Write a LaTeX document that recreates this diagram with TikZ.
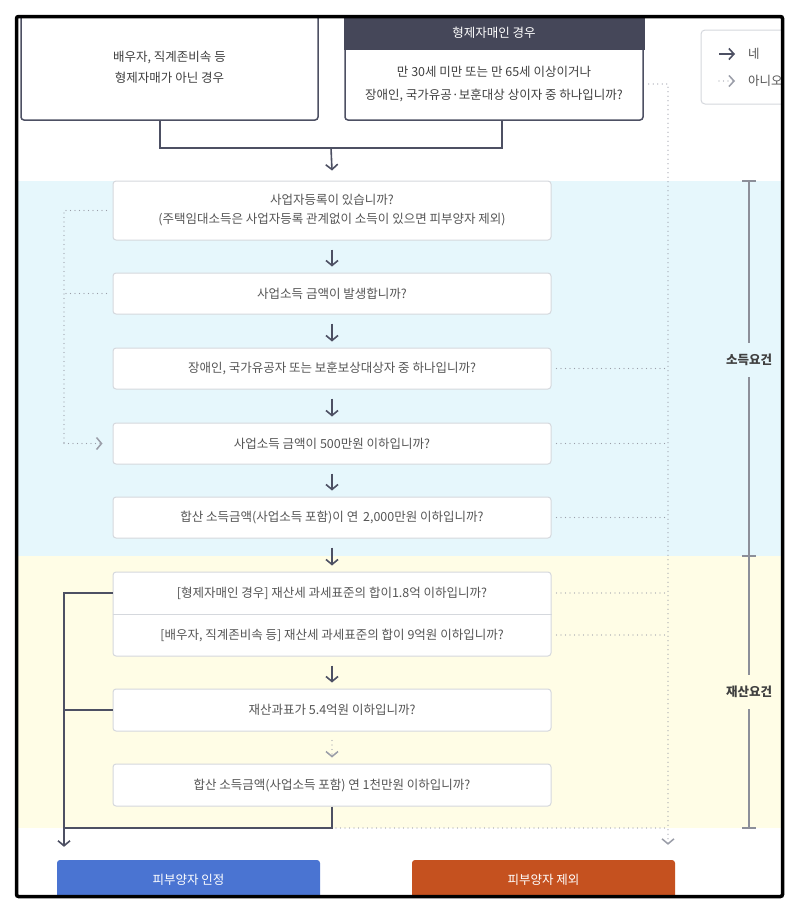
\documentclass[tikz,border=0pt]{standalone}
\usepackage{fontspec}
\setmainfont{Noto Sans CJK KR}
\usetikzlibrary{arrows.meta,calc}
\definecolor{hdr}{HTML}{454759}
\definecolor{ln}{HTML}{4D5063}
\definecolor{dotc}{HTML}{9A9DA8}
\definecolor{bandc}{HTML}{E6F7FC}
\definecolor{bandy}{HTML}{FFFDE6}
\definecolor{bord}{HTML}{D5D8DD}
\definecolor{txt}{HTML}{555555}
\definecolor{txtd}{HTML}{404040}
\definecolor{yesc}{HTML}{4A74D2}
\definecolor{noc}{HTML}{C5511F}
\definecolor{brk}{HTML}{8C8F99}
\begin{document}
\begin{tikzpicture}[x=1pt,y=-1pt,
  font=\fontsize{12.5}{15}\selectfont,
  qbox/.style={draw=bord, line width=1pt, fill=white, rounded corners=3pt,
    minimum width=438pt, minimum height=41pt, text=txt, align=center, inner sep=0pt},
  topbox/.style={draw=ln, line width=1.5pt, fill=white, rounded corners=3pt,
    minimum width=297pt, minimum height=105pt, inner sep=0pt, align=center, text=txtd},
  tx/.style={text=txt, align=center, inner sep=0pt},
  solidln/.style={draw=ln, line width=1.6pt},
  solidarr/.style={solidln, -{Straight Barb[length=5pt,width=12pt]}},
  dotln/.style={draw=dotc, line width=1.3pt, line cap=round, dash pattern=on 0pt off 4.5pt},
  dotarr/.style={dotln, -{Straight Barb[length=5pt,width=12pt,line width=1.5pt]}},
  btn/.style={rounded corners=3pt, minimum width=263pt, minimum height=40pt,
    text=white, inner sep=0pt},
  brkln/.style={draw=brk, line width=1.2pt},
  brklab/.style={text=txtd, font=\fontsize{12.5}{15}\selectfont\bfseries, inner xsep=0pt, inner ysep=11pt}
]
\useasboundingbox (0,0) rectangle (800,914);
\fill[white] (0,0) rectangle (800,914);
\begin{scope}
\clip (18,18) rectangle (781,895);
% bands
\fill[bandc] (18,181) rectangle (781,556);
\fill[bandy] (18,556) rectangle (781,828);
% top boxes
\node[topbox, font=\fontsize{12.5}{21}\selectfont] (L) at (169.5,67.5) {배우자, 직계존비속 등\\형제자매가 아닌 경우};
\node[topbox, minimum width=298pt] (R) at (494,67.5) {};
\fill[hdr] ([xshift=-0.75pt]R.north west) rectangle ($(R.north east)+(0.75,36)$);
\node[tx, text=white] (RH) at (494,33) {형제자매인 경우};
\node[tx, text=txtd, font=\fontsize{12.5}{23}\selectfont] (RB) at (494,84.5) {만 30세 미만 또는 만 65세 이상이거나\\장애인, 국가유공·보훈대상 상이자 중 하나입니까?};
\coordinate (Rno) at ([yshift=-16.5pt]R.east);
% legend
\node[draw=bord, line width=1pt, fill=white, rounded corners=4pt, minimum width=120pt, minimum height=74pt] (Leg) at (761,67) {};
\node[tx, anchor=west, text=txt] (LY) at (748,54) {네};
\node[tx, anchor=west, text=txt] (LN) at (748,81) {아니오};
\coordinate (LYa) at (719,54);
\coordinate (LNa) at (719,81);
\draw[solidln, -{Straight Barb[length=5pt,width=11pt]}] (LYa) -- ([xshift=-13pt]LY.west);
\draw[dotln, -{Straight Barb[length=5pt,width=11pt,line width=1.5pt]}] (LNa) -- ([xshift=-13pt]LN.west);
% question boxes
\node[qbox, minimum height=59pt, font=\fontsize{12.5}{19}\selectfont] (B1) at (332,210.5) {사업자등록이 있습니까?\\(주택임대소득은 사업자등록 관계없이 소득이 있으면 피부양자 제외)};
\node[qbox] (B2) at (332,293.5) {사업소득 금액이 발생합니까?};
\node[qbox] (B3) at (332,368.5) {장애인, 국가유공자 또는 보훈보상대상자 중 하나입니까?};
\node[qbox] (B4) at (332,443.5) {사업소득 금액이 500만원 이하입니까?};
\node[qbox] (B5) at (332,517.5) {합산 소득금액(사업소득 포함)이 연 \,2,000만원 이하입니까?};
\node[qbox, minimum height=84pt] (B6) at (332,614) {};
\draw[draw=bord, line width=1pt] (B6.west) -- (B6.east);
\node[tx] (B6a) at (332,593) {[형제자매인 경우] 재산세 과세표준의 합이1.8억 이하입니까?};
\node[tx] (B6b) at (332,635) {[배우자, 직계존비속 등] 재산세 과세표준의 합이 9억원 이하입니까?};
\node[qbox, minimum height=42pt] (B7) at (332,710) {재산과표가 5.4억원 이하입니까?};
\node[qbox, minimum height=42pt] (B8) at (332,785) {합산 소득금액(사업소득 포함) 연 1천만원 이하입니까?};
% buttons
\node[btn, fill=yesc] (Yes) at (188.5,880) {피부양자 인정};
\node[btn, fill=noc] (No) at (543.5,880) {피부양자 제외};
% columns
\coordinate (J) at (331,148);
\coordinate (YesCol) at (64,0);
\coordinate (NoCol) at (668,0);
\coordinate (Bot) at (0,828);
% top connectors
\draw[solidln] ([xshift=-9.5pt]L.south) |- (J) -| ([xshift=8pt]R.south);
\draw[solidarr] (J) -- ($(B1.north)+(0,-10)$);
% yes arrows
\foreach \a/\b in {B1/B2,B2/B3,B3/B4,B4/B5,B5/B6,B6/B7}
  \draw[solidarr, shorten <=9pt, shorten >=6pt] (\a.south) -- (\b.north);
\draw[dotarr, shorten <=9pt, shorten >=6pt] (B7.south) -- (B8.north);
% left dotted (no) path
\draw[dotln] ([xshift=-6pt]B1.west) -- (B1.west -| YesCol) -- (B4.west -| YesCol);
\draw[dotarr, shorten >=10pt] (B4.west -| YesCol) -- (B4.west);
\draw[dotln] ([xshift=-6pt]B2.west) -- (B2.west -| YesCol);
% right dotted (no) path
\draw[dotarr, shorten >=15pt] ([xshift=5pt]Rno) -| (No.north -| NoCol);
\draw[dotln] ([xshift=5pt]B3.east) -- (B3.east -| NoCol);
\draw[dotln] ([xshift=5pt]B4.east) -- (B4.east -| NoCol);
\draw[dotln] ([xshift=5pt]B5.east) -- (B5.east -| NoCol);
\draw[dotln] ([xshift=5pt]B6.east |- B6a) -- (B6a -| NoCol);
\draw[dotln] ([xshift=5pt]B6.east |- B6b) -- (B6b -| NoCol);
% left solid (yes) path
\draw[solidarr, shorten >=13pt] (B6.west |- B6a) -| (Yes.north -| YesCol);
\draw[solidln] (B7.west) -- (B7.west -| YesCol);
\draw[solidln] (B8.south) -- (B8.south |- Bot) -- (Bot -| YesCol);
\draw[dotln] ([xshift=4pt]B8.south |- Bot) -- (Bot -| NoCol);
% brackets
\node[brklab] (K1) at (749,360) {소득요건};
\node[brklab] (K2) at (749,692) {재산요건};
\coordinate (K1t) at (749,181);
\coordinate (K1b) at (749,556);
\coordinate (K2b) at (749,828);
\draw[brkln] (K1t) -- (K1.north);
\draw[brkln] (K1.south) -- (K1b);
\draw[brkln] (K1b) -- (K2.north);
\draw[brkln] (K2.south) -- (K2b);
\foreach \c in {K1t,K1b,K2b}
  \draw[brkln] ([xshift=-7pt]\c) -- ([xshift=7pt]\c);
\end{scope}
\draw[black, line width=3.5pt, rounded corners=2pt] (16.5,16.5) rectangle (782.5,896.5);
\end{tikzpicture}
\end{document}
